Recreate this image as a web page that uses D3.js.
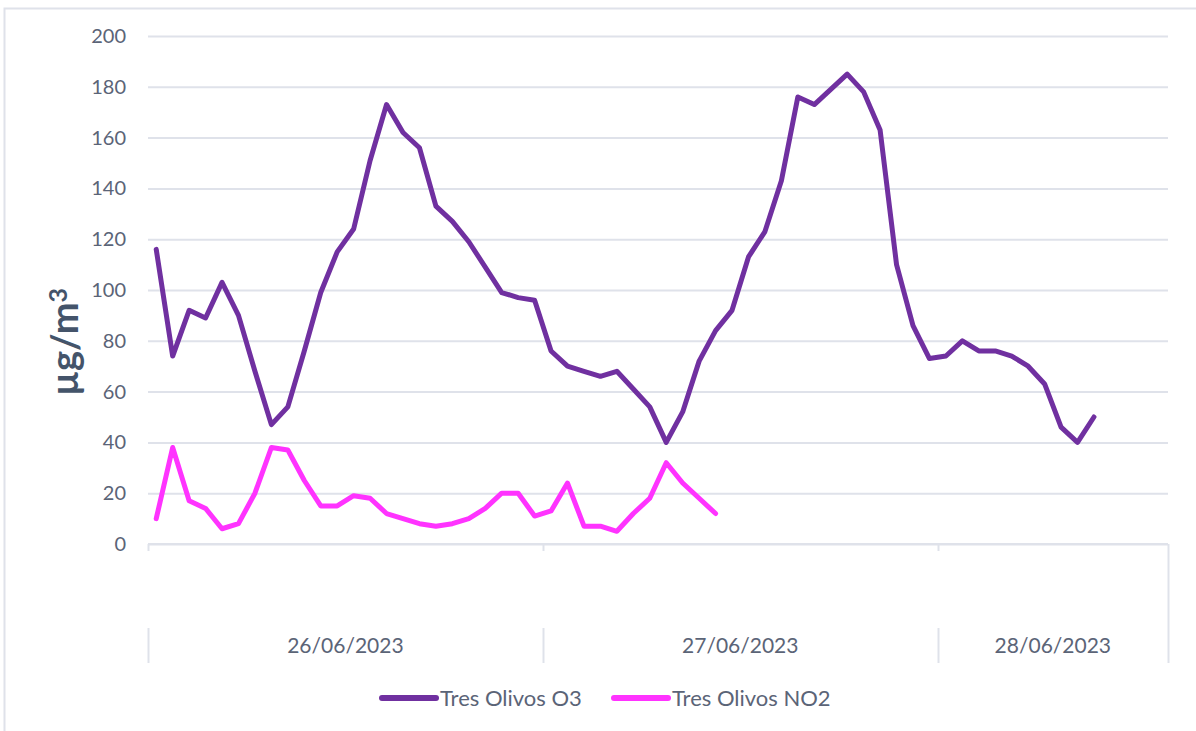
<!DOCTYPE html>
<html>
<head>
<meta charset="utf-8">
<script src="https://cdn.jsdelivr.net/npm/d3@7"></script>
<style>
  body { margin: 0; background: #fff; }
  text { font-family: Lato, "Open Sans", sans-serif; }
</style>
</head>
<body>
<div id="chart"></div>
<script>
'use strict';

// days shown on the axis and how many hourly readings each one has
var days = ["26/06/2023", "27/06/2023", "28/06/2023"];
var hoursPerDay = [24, 24, 14];

// hourly readings, µg/m3
var o3 = [116, 74, 92, 89, 103, 90, 68, 47, 54, 76, 99, 115, 124, 151, 173, 162,
  156, 133, 127, 119, 109, 99, 97, 96,
  76, 70, 68, 66, 68, 61, 54, 40, 52, 72, 84, 92, 113, 123, 143, 176,
  173, 179, 185, 178, 163, 110, 86, 73,
  74, 80, 76, 76, 74, 70, 63, 46, 40, 50];
var no2 = [10, 38, 17, 14, 6, 8, 20, 38, 37, 25, 15, 15, 19, 18, 12, 10,
  8, 7, 8, 10, 14, 20, 20, 11,
  13, 24, 7, 7, 5, 12, 18, 32, 24, 18, 12];

var seriesNames = ["Tres Olivos O3", "Tres Olivos NO2"];
var seriesColors = ["#7030a0", "#ff33ff"];
var yTicks = [0, 20, 40, 60, 80, 100, 120, 140, 160, 180, 200];

// set the dimensions and margins of the graph
var W = 1196, H = 731;
var margin = {top: 36, right: 28, bottom: 187, left: 148},
  width = W - margin.left - margin.right,
  height = H - margin.top - margin.bottom;

var gridColor = "#dfe2ea";
var textColor = "#5b6477";

// one category per hour
var cats = [];
days.forEach(function(d, i) {
  for (var h = 0; h < hoursPerDay[i]; h++) cats.push(d + " " + h);
});

var x = d3.scaleBand().domain(cats).range([0, width]);
var y = d3.scaleLinear().domain([0, 200]).range([height, 0]);

var svg = d3.select("#chart").append("svg")
  .attr("width", W)
  .attr("height", H);

// chart frame
svg.append("rect")
  .attr("x", 4.5).attr("y", 8.5)
  .attr("width", 1200).attr("height", 740)
  .attr("fill", "none")
  .attr("stroke", gridColor)
  .attr("stroke-width", 2);

var g = svg.append("g")
  .attr("transform", "translate(" + margin.left + "," + margin.top + ")");

// Y axis with gridlines
var yAxis = g.append("g")
  .call(d3.axisLeft(y).tickValues(yTicks).tickSize(-width).tickPadding(22));
yAxis.select(".domain").remove();
yAxis.selectAll(".tick line")
  .attr("stroke", gridColor)
  .attr("stroke-width", 2);
yAxis.selectAll(".tick text")
  .attr("fill", textColor)
  .style("font-size", "20px")
  .style("font-family", "Lato, sans-serif");

// y axis title
svg.append("text")
  .attr("transform", "translate(78,342) rotate(-90)")
  .attr("text-anchor", "middle")
  .attr("fill", "#44546a")
  .style("font-size", "38px")
  .style("font-weight", "bold")
  .text("µg/m")
  .append("tspan")
    .attr("dy", "-0.45em")
    .style("font-size", "25px")
    .text("3");

// X axis: baseline and day separators
var xAxis = g.append("g").attr("transform", "translate(0," + height + ")");
xAxis.append("line")
  .attr("x1", 0).attr("x2", width)
  .attr("stroke", gridColor).attr("stroke-width", 2);

var start = 0, bounds = [];
days.forEach(function(d, i) {
  var x0 = x(cats[start]);
  var x1 = x(cats[start + hoursPerDay[i] - 1]) + x.bandwidth();
  bounds.push({day: d, x0: x0, x1: x1});
  start += hoursPerDay[i];
});

var edges = [0].concat(bounds.map(function(b) { return b.x1; }));
edges.forEach(function(ex, i) {
  var last = i === edges.length - 1;
  xAxis.append("line")
    .attr("x1", Math.round(ex) + 0.5).attr("x2", Math.round(ex) + 0.5)
    .attr("y1", 0).attr("y2", last ? 119 : 7)
    .attr("stroke", gridColor).attr("stroke-width", 2);
  if (!last) {
    xAxis.append("line")
      .attr("x1", Math.round(ex) + 0.5).attr("x2", Math.round(ex) + 0.5)
      .attr("y1", 84).attr("y2", 119)
      .attr("stroke", gridColor).attr("stroke-width", 2);
  }
});

xAxis.selectAll(".day")
  .data(bounds)
  .enter().append("text")
    .attr("class", "day")
    .attr("x", function(b) { return (b.x0 + b.x1) / 2; })
    .attr("y", 109)
    .attr("text-anchor", "middle")
    .attr("fill", textColor)
    .style("font-size", "21px")
    .text(function(b) { return b.day; });

// lines
var line = d3.line()
  .x(function(d, i) { return x(cats[i]) + x.bandwidth() / 2; })
  .y(function(d) { return y(d); });

[o3, no2].forEach(function(s, i) {
  g.append("path")
    .datum(s)
    .attr("fill", "none")
    .attr("stroke", seriesColors[i])
    .attr("stroke-width", 5)
    .attr("stroke-linejoin", "round")
    .attr("stroke-linecap", "round")
    .attr("d", line);
});

// legend
var legendX = [382, 614];
var legend = svg.selectAll(".legend")
  .data(seriesNames)
  .enter().append("g")
    .attr("class", "legend")
    .attr("transform", function(d, i) { return "translate(" + legendX[i] + ",698)"; });

legend.append("line")
  .attr("x1", 0).attr("x2", 54)
  .attr("stroke", function(d, i) { return seriesColors[i]; })
  .attr("stroke-width", 6)
  .attr("stroke-linecap", "round");

legend.append("text")
  .attr("x", 58)
  .attr("y", 8)
  .attr("fill", textColor)
  .style("font-size", "22px")
  .text(function(d) { return d; });
</script>
</body>
</html>
